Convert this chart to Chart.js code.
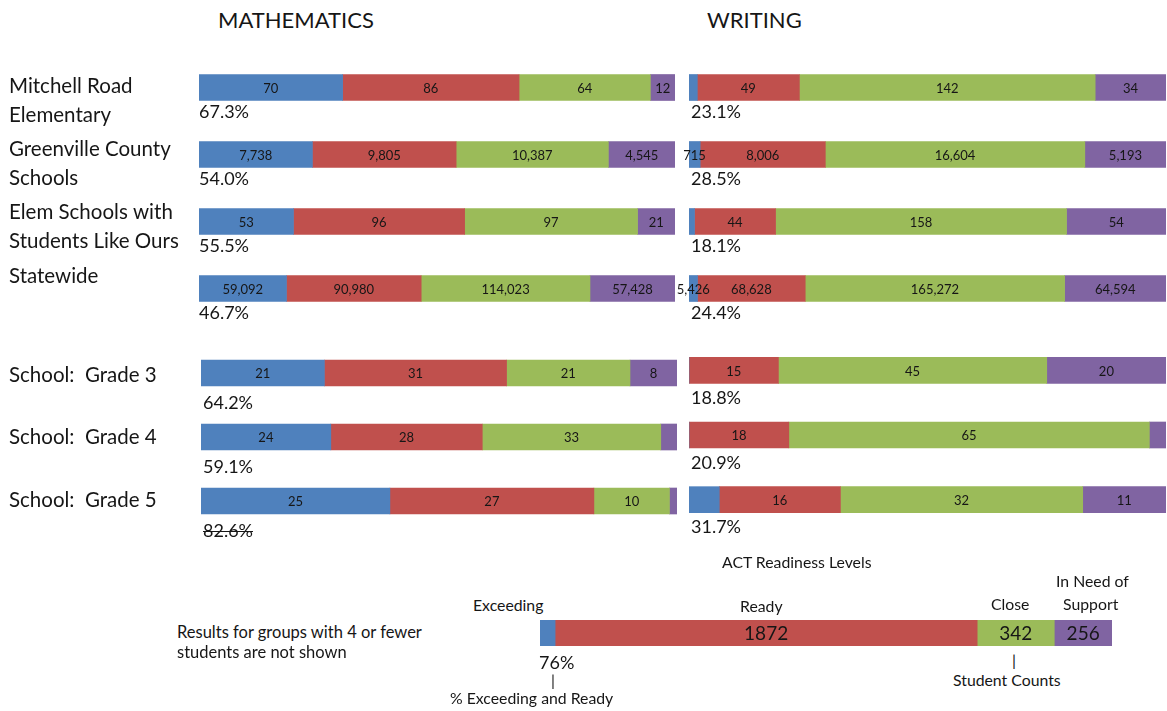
<!DOCTYPE html>
<html lang="en">

<head>
    <meta charset="UTF-8">
    <title>ACT Readiness</title>
    <script src="https://cdn.jsdelivr.net/npm/chart.js"></script>
    <style>
        body { margin: 0; background: #fff; font-family: Lato, "Open Sans", sans-serif; color: #161616; }
        #page { position: relative; width: 1167px; height: 711px; overflow: hidden; }
        canvas, .txt { position: absolute; }
        .txt { white-space: nowrap; line-height: 1; }
        .title { font-size: 22px; top: 9px; }
        .small { font-size: 15.8px; }
        .note { font-size: 16.5px; }
    </style>
</head>

<body>
<div id="page">
    <div class="txt title" style="left:218px">MATHEMATICS</div>
    <div class="txt title" style="left:707px">WRITING</div>

    <canvas id="mathTop" width="680" height="290" style="left:0;top:54px"></canvas>
    <canvas id="mathGrade" width="680" height="222" style="left:0;top:341px"></canvas>
    <canvas id="writeTop" width="507" height="290" style="left:660px;top:54px"></canvas>
    <canvas id="writeGrade" width="507" height="224" style="left:660px;top:338px"></canvas>
    <canvas id="legendBar" width="572" height="26" style="left:540px;top:620px"></canvas>

    <div class="txt small" style="left:722px;top:554px">ACT Readiness Levels</div>
    <div class="txt small" style="left:473px;top:597px">Exceeding</div>
    <div class="txt small" style="left:740px;top:598px">Ready</div>
    <div class="txt small" style="left:991px;top:596px">Close</div>
    <div class="txt small" style="left:1056px;top:573px">In Need of</div>
    <div class="txt small" style="left:1063px;top:596px">Support</div>
    <div class="txt note" style="left:177px;top:624px">Results for groups with 4 or fewer</div>
    <div class="txt note" style="left:177px;top:644px">students are not shown</div>
    <div class="txt" id="legendPct" style="left:539px;top:653px;font-size:18px"></div>
    <div class="txt small" style="left:551px;top:672px">|</div>
    <div class="txt small" style="left:450px;top:690px">% Exceeding and Ready</div>
    <div class="txt small" style="left:1012px;top:652px">|</div>
    <div class="txt small" style="left:953px;top:672px">Student Counts</div>
</div>

<script>
    // readiness levels (one dataset each)
    const levels = ['Exceeding', 'Ready', 'Close', 'In Need of Support'];
    const colors = ['#4F81BD', '#C0504D', '#9BBB59', '#8064A2'];

    // comparison groups
    const groups = [['Mitchell Road', 'Elementary'], ['Greenville County', 'Schools'],
                    ['Elem Schools with', 'Students Like Ours'], ['Statewide']];
    const grades = [['School:  Grade 3'], ['School:  Grade 4'], ['School:  Grade 5']];

    // mathematics student counts
    const mathExceeding = [70, 7738, 53, 59092];
    const mathReady = [86, 9805, 96, 90980];
    const mathClose = [64, 10387, 97, 114023];
    const mathSupport = [12, 4545, 21, 57428];
    const mathPct = ['67.3%', '54.0%', '55.5%', '46.7%'];

    const mathGradeExceeding = [21, 24, 25];
    const mathGradeReady = [31, 28, 27];
    const mathGradeClose = [21, 33, 10];
    const mathGradeSupport = [8, 3, 1];
    const mathGradePct = ['64.2%', '59.1%', '82.6%'];

    // writing student counts
    const writeExceeding = [4, 715, 3, 5426];
    const writeReady = [49, 8006, 44, 68628];
    const writeClose = [142, 16604, 158, 165272];
    const writeSupport = [34, 5193, 54, 64594];
    const writePct = ['23.1%', '28.5%', '18.1%', '24.4%'];

    const writeGradeExceeding = [0, 0, 4];
    const writeGradeReady = [15, 18, 16];
    const writeGradeClose = [45, 65, 32];
    const writeGradeSupport = [20, 3, 11];
    const writeGradePct = ['18.8%', '20.9%', '31.7%'];

    // legend sample bar
    const legendCounts = [67, 1872, 342, 256];
    const legendPct = '76%';

    document.getElementById('legendPct').textContent = legendPct;

    // draws the counts inside the bars, the % under each bar and the row names
    function textPlugin(cfg) {
        return {
            id: 'rowText',
            afterDatasetsDraw(chart) {
                const ctx = chart.ctx;
                const yScale = chart.scales.y;
                ctx.save();
                ctx.fillStyle = '#161616';
                ctx.textBaseline = 'middle';

                ctx.font = cfg.valueFont || '13px Lato';
                ctx.textAlign = 'center';
                chart.data.datasets.forEach((ds, di) => {
                    if (cfg.hide && cfg.hide.includes(di)) return;
                    chart.getDatasetMeta(di).data.forEach((bar, i) => {
                        const n = cfg.counts[di][i];
                        if (n <= 4) return;
                        const p = bar.getProps(['x', 'base', 'y'], true);
                        const txt = cfg.plain ? String(n) : n.toLocaleString('en-US');
                        ctx.fillText(txt, (p.x + p.base) / 2, p.y + 1);
                    });
                });

                if (cfg.pct) {
                    ctx.font = '18px Lato';
                    ctx.textAlign = 'left';
                    cfg.pct.forEach((t, i) => {
                        const x = chart.chartArea.left + cfg.pctDx;
                        const y = yScale.getPixelForValue(i) + cfg.pctDy;
                        ctx.fillText(t, x, y);
                        if (cfg.strike && cfg.strike.includes(i)) {
                            const w = ctx.measureText(t).width;
                            ctx.fillRect(x, y, w, 1);
                        }
                    });
                }

                if (cfg.rows) {
                    ctx.font = '20.5px Lato';
                    ctx.textAlign = 'left';
                    cfg.rows.forEach((lines, i) => {
                        lines.forEach((line, j) => {
                            ctx.fillText(line, 9, cfg.rowTop + i * cfg.rowStep + j * 29);
                        });
                    });
                }
                ctx.restore();
            }
        };
    }

    function stackedChart(id, cats, counts, padding, extra) {
        const totals = cats.map((c, i) => counts.reduce((s, arr) => s + arr[i], 0));
        return new Chart(document.getElementById(id), {
            type: 'bar',
            data: {
                labels: cats.map(c => c.join(' ')),
                datasets: levels.map((name, k) => ({
                    label: name,
                    data: counts[k].map((v, i) => v / totals[i] * 100),
                    backgroundColor: colors[k],
                    borderWidth: 0,
                    barThickness: 26
                }))
            },
            options: {
                indexAxis: 'y',
                responsive: false,
                animation: false,
                devicePixelRatio: 1,
                layout: { padding: padding },
                plugins: { legend: { display: false }, tooltip: { enabled: false } },
                scales: {
                    x: { stacked: true, min: 0, max: 100, display: false },
                    y: { stacked: true, display: false }
                }
            },
            plugins: [textPlugin(Object.assign({ counts: counts }, extra))]
        });
    }

    stackedChart('mathTop', groups,
        [mathExceeding, mathReady, mathClose, mathSupport],
        { left: 199, right: 5, top: 0, bottom: 22 },
        { pct: mathPct, pctDx: 0, pctDy: 25, rows: groups, rowTop: 32, rowStep: 63.4 });

    stackedChart('mathGrade', grades,
        [mathGradeExceeding, mathGradeReady, mathGradeClose, mathGradeSupport],
        { left: 201, right: 3, top: 0, bottom: 30 },
        { pct: mathGradePct, pctDx: 2, pctDy: 30, strike: [2], rows: grades, rowTop: 34, rowStep: 62.5 });

    stackedChart('writeTop', groups,
        [writeExceeding, writeReady, writeClose, writeSupport],
        { left: 29, right: 1, top: 0, bottom: 22 },
        { pct: writePct, pctDx: 2, pctDy: 25 });

    stackedChart('writeGrade', grades,
        [writeGradeExceeding, writeGradeReady, writeGradeClose, writeGradeSupport],
        { left: 29, right: 1, top: 0, bottom: 30 },
        { pct: writeGradePct, pctDx: 2, pctDy: 28 });

    stackedChart('legendBar', [['Sample']],
        legendCounts.map(v => [v]),
        { left: 0, right: 0, top: 0, bottom: 0 },
        { hide: [0], plain: true, valueFont: '19px Lato' });
</script>
</body>

</html>
